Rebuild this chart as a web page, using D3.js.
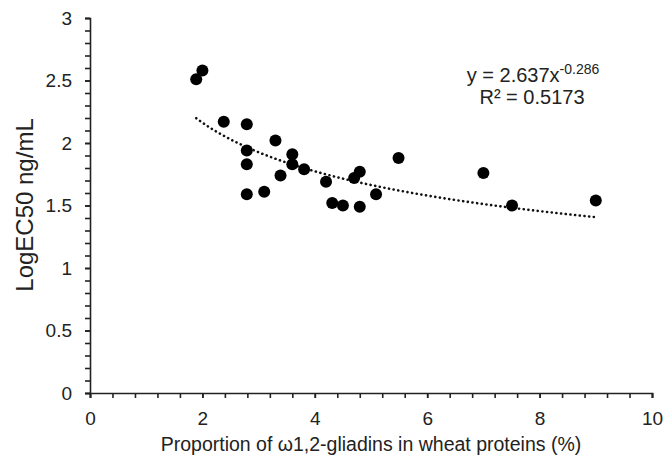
<!DOCTYPE html>
<html>
<head>
<meta charset="utf-8">
<script src="https://cdn.jsdelivr.net/npm/d3@7"></script>
<style>
  body { margin: 0; background: #fff; }
  text { font-family: "Liberation Sans", Arial, sans-serif; fill: #222; }
</style>
</head>
<body>
<div id="chart"></div>
<script>
// Data
const proportion = [1.89, 2.0, 2.38, 2.79, 2.79, 2.79, 2.79, 3.1, 3.3, 3.39, 3.6, 3.6, 3.81, 4.2, 4.31, 4.5, 4.7, 4.8, 4.8, 5.09, 5.49, 7.0, 7.51, 9.0];
const logEC50   = [2.51, 2.58, 2.17, 2.15, 1.94, 1.83, 1.59, 1.61, 2.02, 1.74, 1.91, 1.83, 1.79, 1.69, 1.52, 1.50, 1.72, 1.77, 1.49, 1.59, 1.88, 1.76, 1.50, 1.54];
const fitA = 2.637, fitB = -0.286;
const xTicks = [0, 2, 4, 6, 8, 10];
const yTicks = [0, 0.5, 1, 1.5, 2, 2.5, 3];

const W = 667, H = 468;
const margin = { top: 18, right: 15, bottom: 75, left: 90 };

const svg = d3.select('#chart').append('svg')
  .attr('width', W).attr('height', H);

const x = d3.scaleLinear().domain([0, 10]).range([margin.left, 652]);
const y = d3.scaleLinear().domain([0, 3]).range([393, margin.top]);

// minor ticks
svg.append('g')
  .attr('transform', `translate(0,${y(0)})`)
  .call(d3.axisBottom(x).tickValues(d3.range(0, 10.01, 0.4)).tickSize(5).tickFormat(''))
  .call(g => g.select('.domain').remove());
svg.append('g')
  .attr('transform', `translate(${x(0)},0)`)
  .call(d3.axisLeft(y).tickValues(d3.range(0, 3.001, 0.1)).tickSize(5).tickFormat(''))
  .call(g => g.select('.domain').remove());

// main axes
const xAxis = svg.append('g')
  .attr('transform', `translate(0,${y(0)})`)
  .call(d3.axisBottom(x).tickValues(xTicks).tickSize(5).tickSizeOuter(5).tickPadding(14));
const yAxis = svg.append('g')
  .attr('transform', `translate(${x(0)},0)`)
  .call(d3.axisLeft(y).tickValues(yTicks).tickFormat(d => d).tickSize(5).tickSizeOuter(5).tickPadding(13));

[xAxis, yAxis].forEach(g => {
  g.selectAll('text').style('font-size', '19px').attr('fill', '#222');
  g.selectAll('line, path').attr('stroke', '#222').attr('stroke-width', 1.6);
});
svg.selectAll('.tick line').attr('stroke', '#222').attr('stroke-width', 1.6);

// trend line
const xs = d3.range(d3.min(proportion), d3.max(proportion) + 0.001, 0.05);
svg.append('path')
  .datum(xs)
  .attr('fill', 'none')
  .attr('stroke', '#111')
  .attr('stroke-width', 2.6)
  .attr('stroke-dasharray', '0.1,4.6')
  .attr('stroke-linecap', 'round')
  .attr('d', d3.line().x(d => x(d)).y(d => y(fitA * Math.pow(d, fitB))));

// points
svg.append('g').selectAll('circle')
  .data(proportion)
  .enter()
  .append('circle')
  .attr('cx', d => x(d))
  .attr('cy', (d, i) => y(logEC50[i]))
  .attr('r', 6)
  .attr('fill', '#000');

// equation
const eq = svg.append('text')
  .attr('x', 533).attr('y', 82)
  .attr('text-anchor', 'middle')
  .style('font-size', '20px');
eq.append('tspan').text('y = 2.637x');
eq.append('tspan').attr('dy', -8).style('font-size', '14px').text('-0.286');
svg.append('text')
  .attr('x', 532).attr('y', 104)
  .attr('text-anchor', 'middle')
  .style('font-size', '20px')
  .text('R² = 0.5173');

// axis titles
svg.append('text')
  .attr('x', 371).attr('y', 451)
  .attr('text-anchor', 'middle')
  .style('font-size', '19.5px')
  .text('Proportion of ω1,2-gliadins in wheat proteins (%)');
svg.append('text')
  .attr('transform', 'translate(33,205) rotate(-90)')
  .attr('text-anchor', 'middle')
  .style('font-size', '24px')
  .text('LogEC50 ng/mL');
</script>
</body>
</html>
